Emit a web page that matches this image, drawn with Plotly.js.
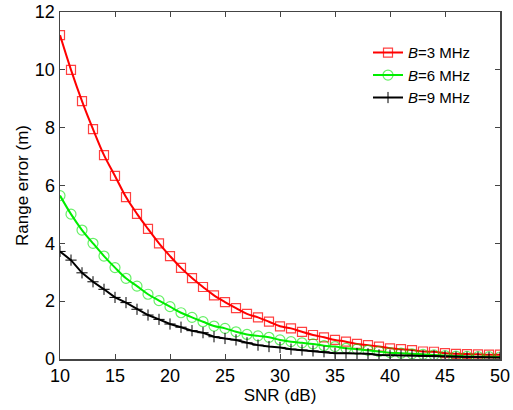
<!DOCTYPE html>
<html><head><meta charset="utf-8">
<script src="https://cdn.plot.ly/plotly-3.0.1.min.js"></script>
<style>body{margin:0;background:#fff}#c{width:513px;height:410px}</style>
</head><body><div id="c"></div>
<script>
const snr = [10,11,12,13,14,15,16,17,18,19,20,21,22,23,24,25,26,27,28,29,30,31,32,33,34,35,36,37,38,39,40,41,42,43,44,45,46,47,48,49,50];
const errB3 = [11.2,10.0,8.92,7.95,7.05,6.33,5.6,5.02,4.5,4.0,3.56,3.15,2.8,2.49,2.2,1.97,1.76,1.56,1.44,1.29,1.13,1.06,0.94,0.83,0.75,0.66,0.6,0.52,0.48,0.43,0.37,0.34,0.31,0.26,0.25,0.2,0.18,0.17,0.16,0.15,0.15];
const errB6 = [5.65,5.01,4.46,4.0,3.56,3.16,2.79,2.52,2.24,2.02,1.81,1.6,1.44,1.29,1.14,1.06,0.94,0.85,0.8,0.75,0.66,0.6,0.56,0.52,0.46,0.43,0.37,0.34,0.3,0.26,0.22,0.2,0.18,0.16,0.14,0.12,0.1,0.09,0.08,0.08,0.07];
const errB9 = [3.72,3.42,2.98,2.67,2.41,2.13,1.95,1.72,1.52,1.37,1.21,1.1,0.98,0.91,0.77,0.71,0.66,0.56,0.48,0.43,0.4,0.34,0.31,0.28,0.25,0.2,0.2,0.19,0.18,0.14,0.13,0.12,0.12,0.11,0.11,0.09,0.07,0.06,0.06,0.05,0.05];
const names = ['<i>B</i>=3 MHz','<i>B</i>=6 MHz','<i>B</i>=9 MHz'];

const traces = [
  {x: snr, y: errB3, name: names[0], mode: 'lines+markers', line: {color: '#ff0000', width: 2, shape: 'spline'},
   marker: {symbol: 'square-open', size: 9, color: 'rgba(255,0,0,0.75)', line: {width: 1.2}}},
  {x: snr, y: errB6, name: names[1], mode: 'lines+markers', line: {color: '#00ee00', width: 2, shape: 'spline'},
   marker: {symbol: 'circle-open', size: 10, color: 'rgba(0,230,0,0.6)', line: {width: 1.2}}},
  {x: snr, y: errB9, name: names[2], mode: 'lines+markers', line: {color: '#000000', width: 2},
   marker: {symbol: 'cross-thin-open', size: 8, color: '#000000', line: {width: 1, color: '#222'}}}
];

const FONT = 'Liberation Sans, Arial, sans-serif';
const axisBase = {showline: true, mirror: 'ticks', linecolor: '#444', linewidth: 1.5, ticks: 'inside', ticklen: 5, tickcolor: '#444',
  showgrid: false, zeroline: false, tickfont: {family: FONT, size: 18, color: '#000'}};

const layout = {
  width: 513, height: 410,
  margin: {l: 60, r: 13, t: 12, b: 51},
  paper_bgcolor: '#fff', plot_bgcolor: '#fff',
  showlegend: true,
  legend: {x: 0.70, y: 0.93, xanchor: 'left', yanchor: 'top', bgcolor: 'rgba(0,0,0,0)',
    font: {family: FONT, size: 15, color: '#000'}, tracegroupgap: 0},
  xaxis: Object.assign({}, axisBase, {range: [10, 50], dtick: 5,
    title: {text: 'SNR (dB)', standoff: 3, font: {family: FONT, size: 17, color: '#000'}}}),
  yaxis: Object.assign({}, axisBase, {range: [0, 12], dtick: 2,
    title: {text: 'Range error (m)', standoff: 2, font: {family: FONT, size: 17, color: '#000'}}})
};

Plotly.newPlot('c', traces, layout, {displayModeBar: false, staticPlot: true});
</script></body></html>
